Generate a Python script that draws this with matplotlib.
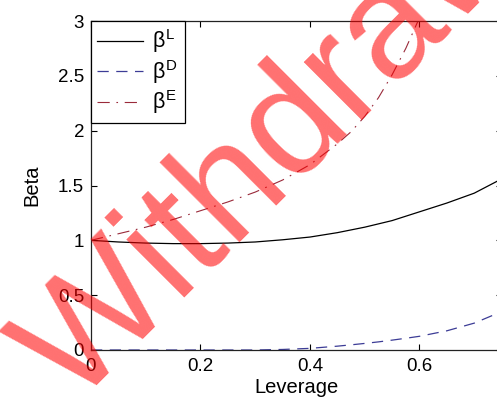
import numpy as np
import matplotlib
matplotlib.use('Agg')
import matplotlib.pyplot as plt

plt.rcParams['font.family'] = ['Liberation Sans', 'DejaVu Sans']
plt.rcParams['mathtext.fontset'] = 'custom'
plt.rcParams['mathtext.rm'] = 'Liberation Sans'
plt.rcParams['mathtext.it'] = 'Liberation Sans'

# Leverage grid and the three betas
leverage = [0, 0.05, 0.1, 0.15, 0.2, 0.25, 0.3, 0.35, 0.4, 0.45, 0.475,
            0.5, 0.525, 0.55, 0.575, 0.6, 0.65, 0.7, 0.75]
beta_L = [1.00, 0.985, 0.975, 0.97, 0.97, 0.975, 0.985, 1.005, 1.03, 1.07,
          1.095, 1.12, 1.15, 1.18, 1.22, 1.26, 1.34, 1.43, 1.56]
beta_D = [0, 0, 0, 0, 0, 0, 0, 0.005, 0.015, 0.035, 0.047, 0.06, 0.074,
          0.09, 0.107, 0.125, 0.175, 0.245, 0.35]
beta_E = [1.0, 1.06, 1.12, 1.19, 1.27, 1.35, 1.44, 1.55, 1.69, 1.88, 1.99,
          2.13, 2.30, 2.51, 2.75, 3.03, 3.9, 5.0, 6.5]

x_ticks = [0, 0.2, 0.4, 0.6]
y_ticks = [0, 0.5, 1, 1.5, 2, 2.5, 3]

fig = plt.figure(figsize=(4.97, 4.07), dpi=100)
W, H = 497, 407
ax = fig.add_axes([91 / W, 57 / H, 410.6 / W, 329 / H])

ax.plot(leverage, beta_L, color='black', lw=0.9, label=r'$\beta^{\rm L}$')
ax.plot(leverage, beta_D, color='#3c3c96', lw=0.9, dashes=(9, 6),
        label=r'$\beta^{\rm D}$')
ax.plot(leverage, beta_E, color='#9a2a3a', lw=0.8, dashes=(11, 6, 1.5, 6),
        label=r'$\beta^{\rm E}$')

ax.set_xlim(0, 0.75)
ax.set_ylim(0, 3)
ax.set_xticks(x_ticks)
ax.set_xticklabels(['%g' % v for v in x_ticks])
ax.set_yticks(y_ticks)
ax.set_yticklabels(['%g' % v for v in y_ticks])
ax.tick_params(direction='in', length=4, width=0.8, top=True, right=True,
               labelsize=13.5, colors='black')
ax.tick_params(axis='x', pad=6)
ax.tick_params(axis='y', pad=5)
for s in ax.spines.values():
    s.set_linewidth(0.9)
    s.set_color('#222222')

ax.set_xlabel('Leverage', fontsize=14.5, labelpad=2)
ax.set_ylabel('Beta', fontsize=14.5, labelpad=12)

leg = ax.legend(loc='upper left', fontsize=15.5, frameon=True, fancybox=False,
                edgecolor='black', framealpha=1, borderaxespad=0,
                handlelength=2.1, handletextpad=0.45, labelspacing=0.12,
                borderpad=0.3)
leg.get_frame().set_linewidth(0.9)

# watermark
fig.text(73.6 / W, -0.4 / H, 'Withdrawn', fontsize=112, color='red',
         alpha=0.56, rotation=45, rotation_mode='anchor',
         ha='left', va='baseline', zorder=10)

fig.savefig('out.png', dpi=100)
